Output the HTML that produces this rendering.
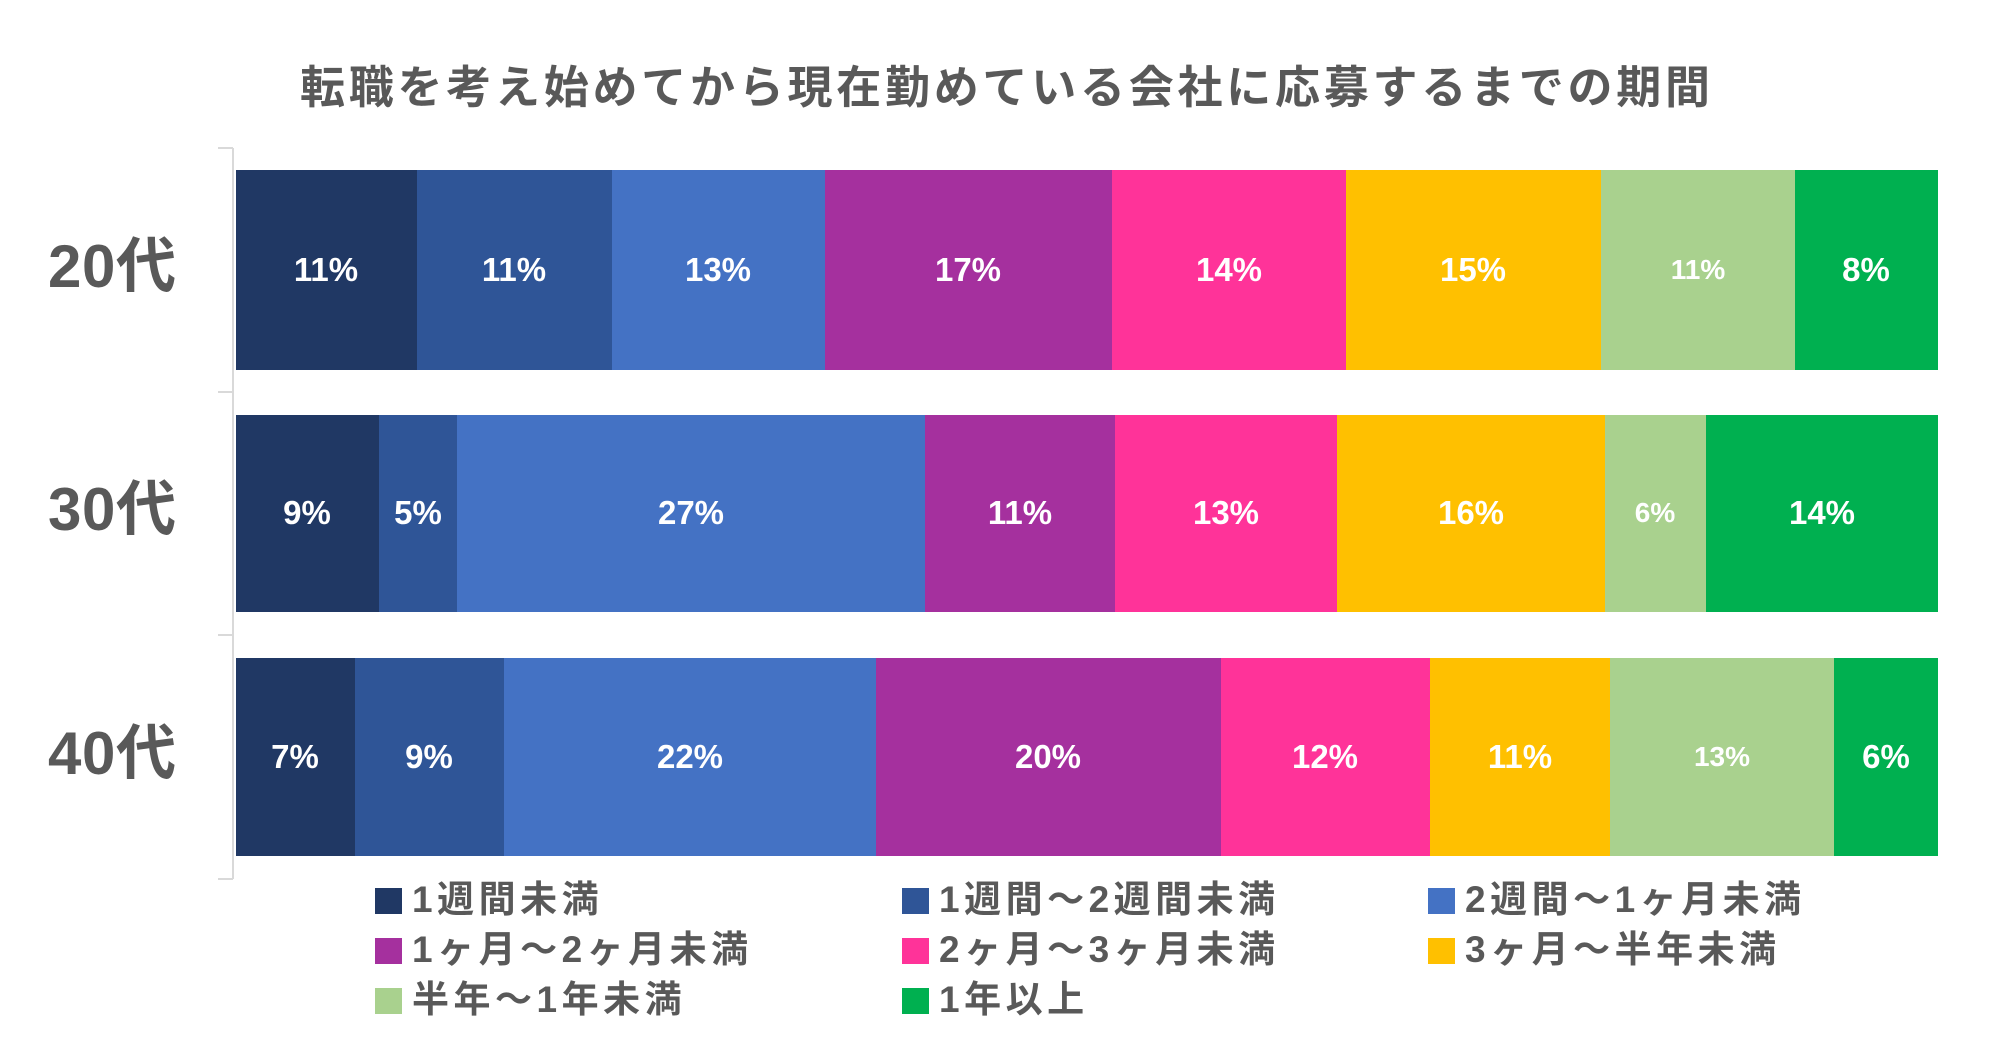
<!DOCTYPE html>
<html><head><meta charset="utf-8"><style>
html,body{margin:0;padding:0;background:#fff;}
svg{display:block;font-family:"Liberation Sans","Noto Sans CJK JP",sans-serif;}
</style></head><body>
<svg width="1999" height="1058" viewBox="0 0 1999 1058">
<rect width="1999" height="1058" fill="#fff"/>
<text x="300" y="103" textLength="1410" lengthAdjust="spacing" font-size="45" font-weight="bold" fill="#595959">転職を考え始めてから現在勤めている会社に応募するまでの期間</text>
<g stroke="#d9d9d9" stroke-width="2" fill="none">
<line x1="233" y1="148" x2="233" y2="879"/>
<line x1="218" y1="148" x2="233" y2="148"/>
<line x1="218" y1="392" x2="233" y2="392"/>
<line x1="218" y1="635" x2="233" y2="635"/>
<line x1="218" y1="879" x2="233" y2="879"/>
</g>
<g font-size="60" font-weight="bold" fill="#595959">
<text x="48" y="287" textLength="128">20代</text>
<text x="48" y="530" textLength="128">30代</text>
<text x="48" y="774" textLength="128">40代</text>
</g>
<g font-size="33" font-weight="bold" fill="#fff" text-anchor="middle">
<rect x="236" y="170" width="181" height="200" fill="#203864"/>
<rect x="417" y="170" width="195" height="200" fill="#2F5597"/>
<rect x="612" y="170" width="213" height="200" fill="#4472C4"/>
<rect x="825" y="170" width="287" height="200" fill="#A5309E"/>
<rect x="1112" y="170" width="234" height="200" fill="#FF3399"/>
<rect x="1346" y="170" width="255" height="200" fill="#FFC000"/>
<rect x="1601" y="170" width="194" height="200" fill="#A9D18E"/>
<rect x="1795" y="170" width="143" height="200" fill="#00B050"/>
<text x="326" y="281">11%</text><text x="514" y="281">11%</text><text x="718" y="281">13%</text><text x="968" y="281">17%</text><text x="1229" y="281">14%</text><text x="1473" y="281">15%</text><text x="1698" y="279" font-size="28">11%</text><text x="1866" y="281">8%</text>
<rect x="236" y="415" width="143" height="197" fill="#203864"/>
<rect x="379" y="415" width="78" height="197" fill="#2F5597"/>
<rect x="457" y="415" width="468" height="197" fill="#4472C4"/>
<rect x="925" y="415" width="190" height="197" fill="#A5309E"/>
<rect x="1115" y="415" width="222" height="197" fill="#FF3399"/>
<rect x="1337" y="415" width="268" height="197" fill="#FFC000"/>
<rect x="1605" y="415" width="101" height="197" fill="#A9D18E"/>
<rect x="1706" y="415" width="232" height="197" fill="#00B050"/>
<text x="307" y="524">9%</text><text x="418" y="524">5%</text><text x="691" y="524">27%</text><text x="1020" y="524">11%</text><text x="1226" y="524">13%</text><text x="1471" y="524">16%</text><text x="1655" y="522" font-size="28">6%</text><text x="1822" y="524">14%</text>
<rect x="236" y="658" width="119" height="198" fill="#203864"/>
<rect x="355" y="658" width="149" height="198" fill="#2F5597"/>
<rect x="504" y="658" width="372" height="198" fill="#4472C4"/>
<rect x="876" y="658" width="345" height="198" fill="#A5309E"/>
<rect x="1221" y="658" width="209" height="198" fill="#FF3399"/>
<rect x="1430" y="658" width="180" height="198" fill="#FFC000"/>
<rect x="1610" y="658" width="224" height="198" fill="#A9D18E"/>
<rect x="1834" y="658" width="104" height="198" fill="#00B050"/>
<text x="295" y="768">7%</text><text x="429" y="768">9%</text><text x="690" y="768">22%</text><text x="1048" y="768">20%</text><text x="1325" y="768">12%</text><text x="1520" y="768">11%</text><text x="1722" y="766" font-size="28">13%</text><text x="1886" y="768">6%</text>
</g>
<g font-size="37" font-weight="bold" fill="#595959" letter-spacing="4.5">
<rect x="375" y="888" width="27" height="26" fill="#203864"/><text x="412" y="912">1週間未満</text>
<rect x="902" y="888" width="27" height="26" fill="#2F5597"/><text x="939" y="912">1週間～2週間未満</text>
<rect x="1428" y="888" width="27" height="26" fill="#4472C4"/><text x="1465" y="912">2週間～1ヶ月未満</text>
<rect x="375" y="938" width="27" height="26" fill="#A5309E"/><text x="412" y="962">1ヶ月～2ヶ月未満</text>
<rect x="902" y="938" width="27" height="26" fill="#FF3399"/><text x="939" y="962">2ヶ月～3ヶ月未満</text>
<rect x="1428" y="938" width="27" height="26" fill="#FFC000"/><text x="1465" y="962">3ヶ月～半年未満</text>
<rect x="375" y="988" width="27" height="26" fill="#A9D18E"/><text x="412" y="1012">半年～1年未満</text>
<rect x="902" y="988" width="27" height="26" fill="#00B050"/><text x="939" y="1012">1年以上</text>
</g>
</svg>
</body></html>
